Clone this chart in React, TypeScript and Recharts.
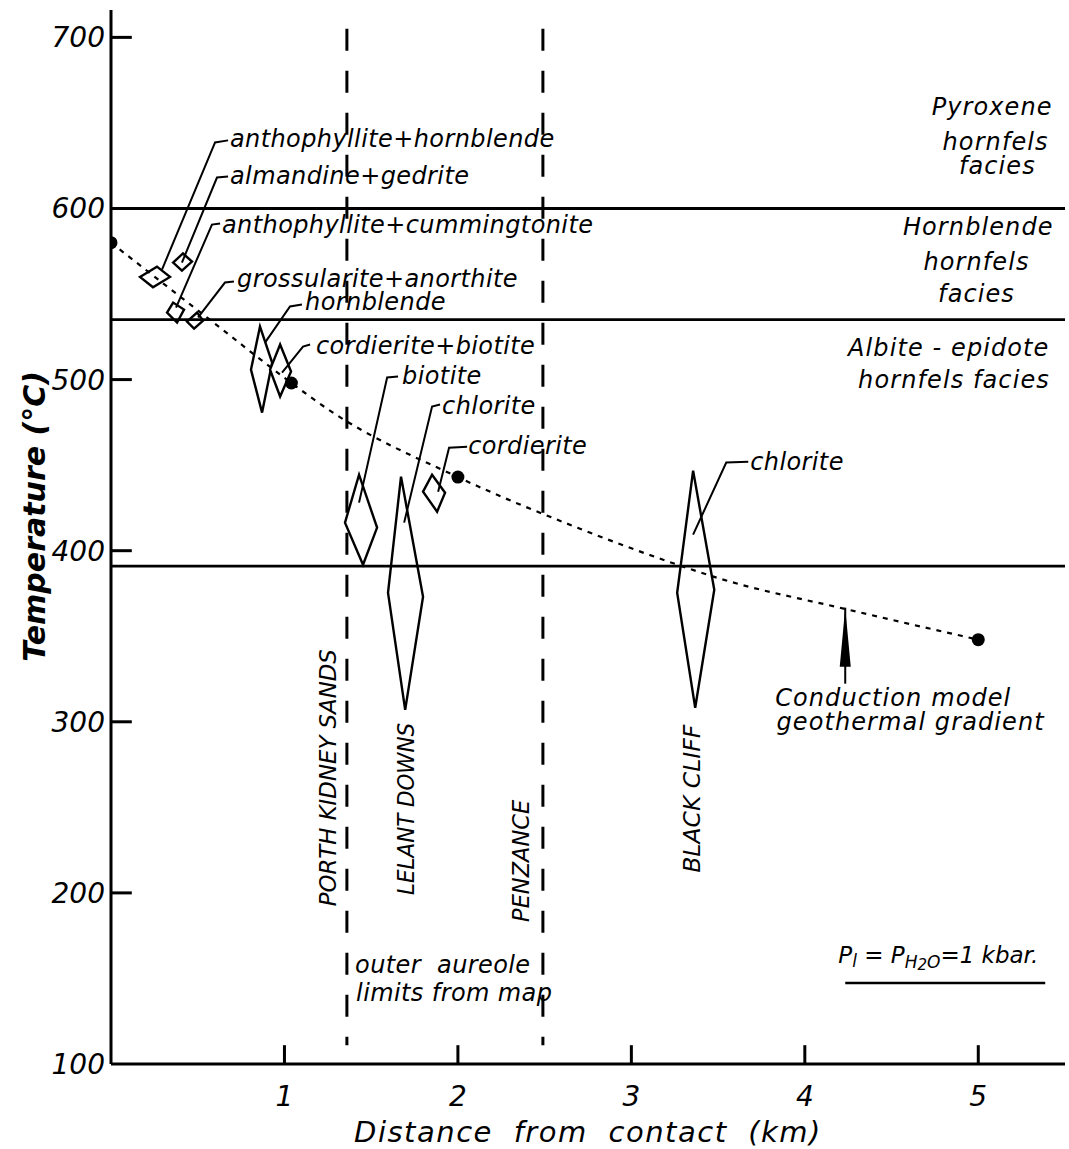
import React from 'react';
import {
  ComposedChart, Line, Scatter, XAxis, YAxis,
  ReferenceLine, ReferenceArea, ReferenceDot,
} from 'recharts';

// conduction model geothermal gradient (km from contact, °C)
const gradientKm = [0, 0.57, 1.04, 1.26, 2.0, 2.7, 3.26, 3.5, 4.23, 5.0];
const gradientTemp = [580, 535, 498, 482, 443, 413, 392, 384, 366, 348];

// calculated points on the gradient
const sampleKm = [0, 1.04, 2.0, 5.0];
const sampleTemp = [580, 498, 443, 348];

// facies boundaries (°C) and aureole limits (km)
const faciesLimits = [600, 535, 391];
const aureoleLimitsKm = [1.36, 2.49];

const xTicks = [1, 2, 3, 4, 5];
const yTicks = [100, 200, 300, 400, 500, 600, 700];
const innerYTicks = [200, 300, 400, 500, 700];

// assemblage estimates, diamond vertices
const anthHbKm = [0.167, 0.265, 0.34, 0.242];
const anthHbTemp = [560, 566, 560, 554];
const almGedKm = [0.358, 0.415, 0.467, 0.409];
const almGedTemp = [568.4, 573.7, 569, 563.7];
const anthCumKm = [0.323, 0.358, 0.421, 0.381];
const anthCumTemp = [539.2, 545, 540.9, 533.3];
const grossAnKm = [0.438, 0.496, 0.531, 0.479];
const grossAnTemp = [533.9, 539.2, 534.5, 529.8];
const hbKm = [0.859, 0.807, 0.871, 0.929];
const hbTemp = [531, 505.8, 480.7, 509.9];
const cordBtKm = [0.975, 0.917, 0.975, 1.038];
const cordBtTemp = [520.5, 505.8, 490.1, 504.7];
const btKm = [1.43, 1.349, 1.453, 1.534];
const btTemp = [444.4, 416.4, 391.8, 413.5];
const chlLdKm = [1.672, 1.597, 1.696, 1.799];
const chlLdTemp = [443.3, 375.4, 307, 373.1];
const cordKm = [1.799, 1.851, 1.926, 1.88];
const cordTemp = [434.5, 444.4, 433.9, 422.8];
const chlBcKm = [3.356, 3.264, 3.368, 3.478];
const chlBcTemp = [446.8, 375.4, 308.2, 377.2];

const diamonds = [
  [anthHbKm, anthHbTemp], [almGedKm, almGedTemp], [anthCumKm, anthCumTemp],
  [grossAnKm, grossAnTemp], [hbKm, hbTemp], [cordBtKm, cordBtTemp],
  [btKm, btTemp], [chlLdKm, chlLdTemp], [cordKm, cordTemp], [chlBcKm, chlBcTemp],
];

// leader lines from labels to diamonds
const leaders = [
  [[0.675, 0.6, 0.294], [639.8, 638.6, 564.3]],
  [[0.675, 0.611, 0.409], [618.7, 618.1, 568.4]],
  [[0.629, 0.582, 0.375], [591.2, 590.6, 542.1]],
  [[0.709, 0.657, 0.502], [557.3, 556.7, 536.3]],
  [[1.101, 1.032, 0.888], [543.9, 542.7, 521.6]],
  [[1.148, 1.107, 0.986], [520.5, 519.3, 504.1]],
  [[1.655, 1.592, 1.43], [501.8, 501.2, 428.1]],
  [[1.897, 1.851, 1.69], [485.4, 484.2, 416.4]],
  [[2.053, 1.949, 1.886], [460.8, 460.2, 434.5]],
  [[3.674, 3.547, 3.356], [452, 451.5, 409.4]],
];

const notes = [
  { t: 'anthophyllite+hornblende', x: 0.686, y: 640.4 },
  { t: 'almandine+gedrite', x: 0.686, y: 618.7 },
  { t: 'anthophyllite+cummingtonite', x: 0.64, y: 590.1 },
  { t: 'grossularite+anorthite', x: 0.727, y: 558.5 },
  { t: 'hornblende', x: 1.119, y: 545.6 },
  { t: 'cordierite+biotite', x: 1.182, y: 519.9 },
  { t: 'biotite', x: 1.678, y: 502.3 },
  { t: 'chlorite', x: 1.909, y: 484.8 },
  { t: 'cordierite', x: 2.059, y: 461.4 },
  { t: 'chlorite', x: 3.685, y: 452 },
  { t: 'outer  aureole', x: 1.407, y: 157.9 },
  { t: 'limits from map', x: 1.413, y: 141.5 },
];

const centredNotes = [
  { t: 'Pyroxene', x: 5.08, y: 659.6 },
  { t: 'hornfels', x: 5.1, y: 639 },
  { t: 'facies', x: 5.11, y: 625 },
  { t: 'Hornblende', x: 5.0, y: 588.9 },
  { t: 'hornfels', x: 4.99, y: 569 },
  { t: 'facies', x: 4.99, y: 550.3 },
  { t: 'Albite - epidote', x: 4.83, y: 518.7 },
  { t: 'hornfels facies', x: 4.86, y: 500 },
  { t: 'Conduction model', x: 4.51, y: 314 },
  { t: 'geothermal gradient', x: 4.61, y: 300 },
];

const localities = [
  { t: 'PORTH KIDNEY SANDS', x: 1.251, y: 267.3, len: 257 },
  { t: 'LELANT DOWNS', x: 1.701, y: 249.1, len: 172 },
  { t: 'PENZANCE', x: 2.364, y: 218.7, len: 122 },
  { t: 'BLACK CLIFF', x: 3.351, y: 255, len: 148 },
];

const pts = (xs: number[], ys: number[]) => xs.map((x, i) => ({ x, y: ys[i] }));

const FONT = 'DejaVu Sans';

const diamondShape = (km: number[], temp: number[]) => (p: any) => {
  const x1 = Math.min(...km), x2 = Math.max(...km);
  const t1 = Math.min(...temp), t2 = Math.max(...temp);
  const points = km
    .map((k, i) => `${p.x + ((k - x1) / (x2 - x1)) * p.width},${p.y + ((t2 - temp[i]) / (t2 - t1)) * p.height}`)
    .join(' ');
  return <polygon points={points} fill="#fff" stroke="#000" strokeWidth={2.4} />;
};

export default function App() {
  return (
    <div style={{ position: 'absolute', left: 0, top: 0, background: '#fff' }}>
      <ComposedChart width={1069} height={1149} margin={{ top: 10, right: 4, left: 0, bottom: 0 }}>
        <XAxis
          type="number" dataKey="x" domain={[0, 5.5]} ticks={xTicks} allowDataOverflow
          height={85} tickSize={0} tickMargin={22} tickLine={false}
          axisLine={{ stroke: '#000', strokeWidth: 3 }}
          tick={{ fill: '#000', fontSize: 28, fontStyle: 'italic', fontFamily: FONT }}
        />
        <YAxis
          type="number" dataKey="y" domain={[100, 716]} ticks={yTicks} allowDataOverflow
          width={111} tickSize={0} tickMargin={6} tickLine={false}
          axisLine={{ stroke: '#000', strokeWidth: 3 }}
          tick={{ fill: '#000', fontSize: 28, fontStyle: 'italic', fontFamily: FONT }}
        />

        {innerYTicks.map((t) => (
          <ReferenceLine key={`yt${t}`} segment={[{ x: 0, y: t }, { x: 0.12, y: t }]} stroke="#000" strokeWidth={3} />
        ))}
        {xTicks.map((t) => (
          <ReferenceLine key={`xt${t}`} segment={[{ x: t, y: 100 }, { x: t, y: 111 }]} stroke="#000" strokeWidth={3} />
        ))}

        {faciesLimits.map((t) => (
          <ReferenceLine key={`f${t}`} y={t} stroke="#000" strokeWidth={2.8} />
        ))}
        {aureoleLimitsKm.map((k) => (
          <ReferenceLine key={`a${k}`} segment={[{ x: k, y: 705 }, { x: k, y: 111 }]}
            stroke="#000" strokeWidth={3} strokeDasharray="22 20" />
        ))}

        <Line data={pts(gradientKm, gradientTemp)} dataKey="y" type="monotone" stroke="#000"
          strokeWidth={2.2} strokeDasharray="5 6" dot={false} isAnimationActive={false} />

        {diamonds.map(([km, temp], i) => (
          <ReferenceArea key={`d${i}`} x1={Math.min(...km)} x2={Math.max(...km)}
            y1={Math.min(...temp)} y2={Math.max(...temp)} shape={diamondShape(km, temp)} />
        ))}

        {leaders.map(([km, temp], i) => (
          <Line key={`l${i}`} data={pts(km, temp)} dataKey="y" type="linear" stroke="#000"
            strokeWidth={2} dot={false} isAnimationActive={false} />
        ))}

        <Scatter data={pts(sampleKm, sampleTemp)} dataKey="y" isAnimationActive={false}
          shape={(p: any) => <circle cx={p.cx} cy={p.cy} r={6.5} fill="#000" />} />

        {notes.map((n, i) => (
          <ReferenceDot key={`n${i}`} x={n.x} y={n.y} r={0} shape={(p: any) => (
            <text x={p.cx} y={p.cy} dominantBaseline="central" fontFamily={FONT} fontStyle="italic"
              fontSize={24} letterSpacing={0.4} fill="#000" style={{ whiteSpace: 'pre' }}>{n.t}</text>
          )} />
        ))}
        {centredNotes.map((n, i) => (
          <ReferenceDot key={`c${i}`} x={n.x} y={n.y} r={0} shape={(p: any) => (
            <text x={p.cx} y={p.cy} dominantBaseline="central" textAnchor="middle" fontFamily={FONT}
              fontStyle="italic" fontSize={24} letterSpacing={1.1} fill="#000">{n.t}</text>
          )} />
        ))}
        {localities.map((n, i) => (
          <ReferenceDot key={`p${i}`} x={n.x} y={n.y} r={0} shape={(p: any) => (
            <text transform={`translate(${p.cx},${p.cy}) rotate(-90)`} dominantBaseline="central"
              textAnchor="middle" fontFamily={FONT} fontStyle="italic" fontSize={23} fill="#000"
              textLength={n.len} lengthAdjust="spacingAndGlyphs">{n.t}</text>
          )} />
        ))}

        <ReferenceDot x={4.233} y={366.7} r={0} shape={(p: any) => (
          <g>
            <path d={`M${p.cx},${p.cy} L${p.cx - 5.5},${p.cy + 59} L${p.cx + 5.5},${p.cy + 59} Z`} fill="#000" />
            <line x1={p.cx} y1={p.cy} x2={p.cx} y2={p.cy + 76} stroke="#000" strokeWidth={2} />
          </g>
        )} />

        <ReferenceDot x={4.193} y={163.7} r={0} shape={(p: any) => (
          <text x={p.cx} y={p.cy} dominantBaseline="central" fontFamily={FONT} fontStyle="italic" fontSize={23} fill="#000">
            <tspan>P</tspan><tspan dy={6} fontSize={17}>l</tspan>
            <tspan dy={-6}> = P</tspan><tspan dy={7} fontSize={17}>H</tspan><tspan dy={3} fontSize={15}>2</tspan>
            <tspan dy={-3} fontSize={17}>O</tspan><tspan dy={-7}>=1 kbar.</tspan>
          </text>
        )} />
        <ReferenceLine segment={[{ x: 4.233, y: 147.4 }, { x: 5.386, y: 147.4 }]} stroke="#000" strokeWidth={2.5} />

        <ReferenceDot x={-0.44} y={420} r={0} ifOverflow="visible" shape={(p: any) => (
          <text transform={`translate(${p.cx},${p.cy}) rotate(-90)`} dominantBaseline="central" textAnchor="middle"
            fontFamily={FONT} fontStyle="italic" fontWeight="bold" fontSize={30} fill="#000">Temperature (°C)</text>
        )} />
        <ReferenceDot x={2.75} y={60} r={0} ifOverflow="visible" shape={(p: any) => (
          <text x={p.cx} y={p.cy} dominantBaseline="central" textAnchor="middle" fontFamily={FONT}
            fontStyle="italic" fontSize={29} letterSpacing={1.5} wordSpacing={10} fill="#000">Distance from contact (km)</text>
        )} />
      </ComposedChart>
    </div>
  );
}
